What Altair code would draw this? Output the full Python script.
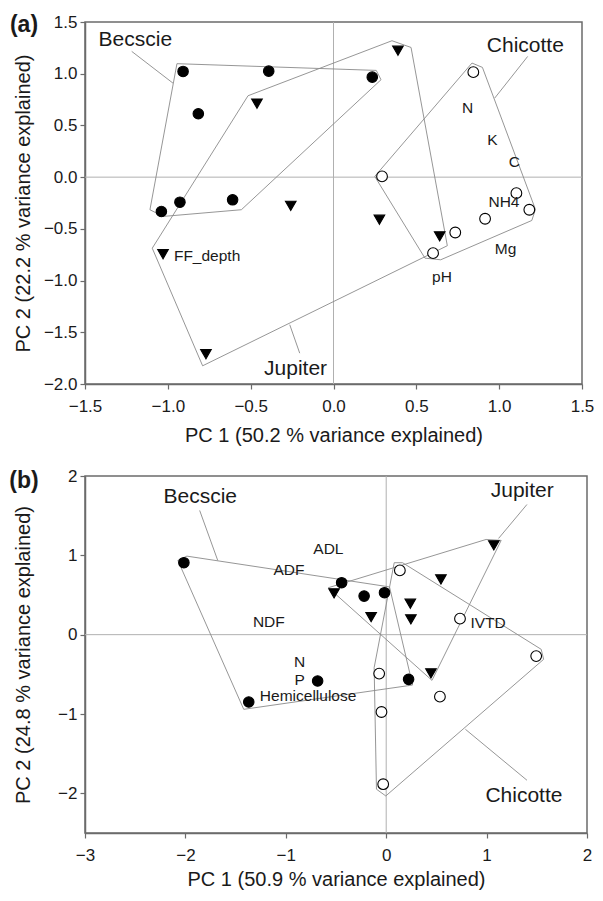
import altair as alt
import pandas as pd

FONT = "Liberation Sans"
INK = "#1a1a1a"
FRAME = "#6b6b6b"
HULL = "#8a8a8a"
CROSS = "#b0b0b0"

# ---------------- panel (a) ----------------
a_bec_x = [-0.908, -0.391, -0.816, -1.039, -0.927, -0.609, 0.234]
a_bec_y = [1.022, 1.025, 0.613, -0.332, -0.242, -0.219, 0.967]
a_jup_x = [-0.462, -0.258, 0.389, 0.277, 0.641, -1.029, -0.770]
a_jup_y = [0.710, -0.277, 1.222, -0.412, -0.573, -0.745, -1.712]
a_chi_x = [0.844, 0.293, 1.104, 1.182, 0.915, 0.735, 0.601]
a_chi_y = [1.015, 0.007, -0.155, -0.315, -0.402, -0.535, -0.735]

a_hull_bec_x = [-0.945, 0.258, 0.287, -0.556, -1.029, -1.108]
a_hull_bec_y = [1.097, 1.032, 0.942, -0.315, -0.380, -0.315]
a_hull_jup_x = [0.353, 0.468, 0.687, -0.790, -1.094, -0.516]
a_hull_jup_y = [1.319, 1.254, -0.663, -1.824, -0.687, 0.787]
a_hull_chi_x = [0.836, 0.899, 1.219, 1.197, 0.647, 0.552, 0.249]
a_hull_chi_y = [1.103, 1.061, -0.312, -0.419, -0.799, -0.783, 0.007]

a_group_names = ["Becscie", "Chicotte", "Jupiter"]
a_group_x = [-1.196, 1.158, -0.229]
a_group_y = [1.329, 1.264, -1.854]
a_lead_x1 = [-1.218, 1.172, -0.204]
a_lead_y1 = [1.216, 1.167, -1.702]
a_lead_x2 = [-0.969, 0.973, -0.264]
a_lead_y2 = [0.909, 0.764, -1.427]

a_var_names = ["N", "K", "C", "NH4", "Mg", "pH", "FF_depth"]
a_var_x = [0.810, 0.959, 1.092, 1.029, 1.039, 0.655, -0.763]
a_var_y = [0.667, 0.355, 0.145, -0.242, -0.696, -0.970, -0.760]

a_xticks = [-1.5, -1.0, -0.5, 0.0, 0.5, 1.0, 1.5]
a_yticks = [-2.0, -1.5, -1.0, -0.5, 0.0, 0.5, 1.0, 1.5]

# ---------------- panel (b) ----------------
b_bec_x = [-2.015, -0.444, -0.220, -0.017, -0.683, -1.369, 0.223]
b_bec_y = [0.907, 0.655, 0.486, 0.529, -0.584, -0.849, -0.563]
b_jup_x = [-0.519, 1.072, 0.545, 0.240, -0.150, 0.246, 0.446]
b_jup_y = [0.520, 1.125, 0.696, 0.390, 0.222, 0.193, -0.487]
b_chi_x = [0.136, 0.735, 1.494, -0.070, 0.535, -0.047, -0.030]
b_chi_y = [0.810, 0.202, -0.270, -0.491, -0.781, -0.975, -1.885]

b_hull_bec_x = [-2.075, -1.985, 0.033, 0.263, -1.419]
b_hull_bec_y = [0.936, 0.990, 0.602, -0.635, -0.941]
b_hull_jup_x = [-0.576, 0.995, 1.145, 0.456]
b_hull_jup_y = [0.592, 1.200, 1.188, -0.576]
b_hull_chi_x = [0.080, 0.163, 1.544, 1.568, -0.004, -0.097, -0.120]
b_hull_chi_y = [0.907, 0.907, -0.185, -0.311, -2.033, -1.948, -0.416]

b_group_names = ["Becscie", "Jupiter", "Chicotte"]
b_group_x = [-1.852, 1.355, 1.372]
b_group_y = [1.738, 1.809, -2.033]
b_lead_x1 = [-1.858, 1.402, 1.402]
b_lead_y1 = [1.566, 1.641, -1.835]
b_lead_x2 = [-1.678, 1.119, 0.789]
b_lead_y2 = [0.936, 1.213, -1.193]

b_var_names = ["ADL", "ADF", "NDF", "N", "P", "Hemicellulose", "IVTD"]
b_var_x = [-0.576, -0.969, -1.169, -0.863, -0.863, -0.778, 1.015]
b_var_y = [1.083, 0.810, 0.164, -0.345, -0.576, -0.773, 0.151]

b_xticks = [-3, -2, -1, 0, 1, 2]
b_yticks = [-2, -1, 0, 1, 2]

GROUPS = ["Becscie", "Jupiter", "Chicotte"]


def points_df(bx, by, jx, jy, cx, cy):
    rows = []
    for g, xs, ys in zip(GROUPS, [bx, jx, cx], [by, jy, cy]):
        for x, y in zip(xs, ys):
            rows.append({"x": x, "y": y, "group": g})
    return pd.DataFrame(rows)


def hull_df(hulls):
    rows = []
    for g, (xs, ys) in hulls.items():
        xs = list(xs) + [xs[0]]
        ys = list(ys) + [ys[0]]
        for i, (x, y) in enumerate(zip(xs, ys)):
            rows.append({"x": x, "y": y, "group": g, "i": i})
    return pd.DataFrame(rows)


def panel(pts, hulls, gnames, gx, gy, lx1, ly1, lx2, ly2, vnames, vx, vy,
          xdom, ydom, xticks, yticks, fmt, xtitle, ytitle, ytpad, xlpad, xtpad,
          letter, ldx, ldy, w, h):
    xs = alt.Scale(domain=xdom, nice=False, zero=False)
    ys = alt.Scale(domain=ydom, nice=False, zero=False)
    common = dict(tickSize=5, tickColor=FRAME, domainColor=FRAME, domainWidth=1.5,
                  tickWidth=1.2, grid=False, labelFont=FONT, labelFontSize=17,
                  labelColor=INK, titleFont=FONT, titleFontSize=20,
                  titleFontWeight="normal", titleColor=INK, labelFlush=False)
    xax = alt.Axis(values=xticks, format=fmt, title=xtitle, labelPadding=xlpad,
                   titlePadding=xtpad, **common)
    yax = alt.Axis(values=yticks, format=fmt, title=ytitle, labelPadding=3,
                   titlePadding=ytpad, **common)
    X = alt.X("x:Q", scale=xs, axis=xax)
    Y = alt.Y("y:Q", scale=ys, axis=yax)

    cross_v = alt.Chart(pd.DataFrame({"x": [0.0]})).mark_rule(
        color=CROSS, strokeWidth=1).encode(x=X)
    cross_h = alt.Chart(pd.DataFrame({"y": [0.0]})).mark_rule(
        color=CROSS, strokeWidth=1).encode(y=Y)

    hull = alt.Chart(hull_df(hulls)).mark_line(
        color=HULL, strokeWidth=0.9).encode(x=X, y=Y, detail="group:N", order="i:Q")

    lead = alt.Chart(pd.DataFrame({"x": lx1, "y": ly1, "x2": lx2, "y2": ly2})).mark_rule(
        color=HULL, strokeWidth=0.9).encode(x=X, y=Y, x2="x2:Q", y2="y2:Q")

    pts_chart = alt.Chart(pts).mark_point(
        opacity=1, stroke="black", strokeWidth=1.1).encode(
        x=X, y=Y,
        shape=alt.Shape("group:N", scale=alt.Scale(
            domain=GROUPS, range=["circle", "triangle-down", "circle"]), legend=None),
        fill=alt.Fill("group:N", scale=alt.Scale(
            domain=GROUPS, range=["black", "black", "white"]), legend=None),
        size=alt.Size("group:N", scale=alt.Scale(
            domain=GROUPS, range=[110, 115, 95]), legend=None),
    )

    glab = alt.Chart(pd.DataFrame({"x": gx, "y": gy, "t": gnames})).mark_text(
        font=FONT, fontSize=21, color=INK, align="center", baseline="middle").encode(
        x=X, y=Y, text="t:N")

    vlab = alt.Chart(pd.DataFrame({"x": vx, "y": vy, "t": vnames})).mark_text(
        font=FONT, fontSize=15.5, color=INK, align="center", baseline="middle").encode(
        x=X, y=Y, text="t:N")

    let = alt.Chart(pd.DataFrame({"t": [letter]})).mark_text(
        font=FONT, fontSize=23, fontWeight="bold", color=INK,
        align="center", baseline="middle").encode(
        x=alt.value(ldx), y=alt.value(ldy), text="t:N")

    return alt.layer(cross_v, cross_h, hull, lead, pts_chart, glab, vlab, let).properties(
        width=w, height=h)


pa = panel(points_df(a_bec_x, a_bec_y, a_jup_x, a_jup_y, a_chi_x, a_chi_y),
           {"Becscie": (a_hull_bec_x, a_hull_bec_y),
            "Jupiter": (a_hull_jup_x, a_hull_jup_y),
            "Chicotte": (a_hull_chi_x, a_hull_chi_y)},
           a_group_names, a_group_x, a_group_y,
           a_lead_x1, a_lead_y1, a_lead_x2, a_lead_y2,
           a_var_names, a_var_x, a_var_y,
           [-1.5, 1.5], [-2.0, 1.5], a_xticks, a_yticks, ".1f",
           "PC 1 (50.2 % variance explained)", "PC 2 (22.2 % variance explained)",
           10, 9, 11,
           "(a)", -61, 3, 497, 362)

pb = panel(points_df(b_bec_x, b_bec_y, b_jup_x, b_jup_y, b_chi_x, b_chi_y),
           {"Becscie": (b_hull_bec_x, b_hull_bec_y),
            "Jupiter": (b_hull_jup_x, b_hull_jup_y),
            "Chicotte": (b_hull_chi_x, b_hull_chi_y)},
           b_group_names, b_group_x, b_group_y,
           b_lead_x1, b_lead_y1, b_lead_x2, b_lead_y2,
           b_var_names, b_var_x, b_var_y,
           [-3, 2], [-2.5, 2], b_xticks, b_yticks, "d",
           "PC 1 (50.9 % variance explained)", "PC 2 (24.8 % variance explained)",
           24, 9, 6,
           "(b)", -61, 5, 502, 357)

chart = alt.vconcat(pa, pb, spacing=20).properties(
    padding={"left": 0, "top": 4, "right": 0, "bottom": 0}
).configure_view(stroke=FRAME, strokeWidth=1.5)

chart.save("out.html", embed_options={"renderer": "svg", "actions": False})
